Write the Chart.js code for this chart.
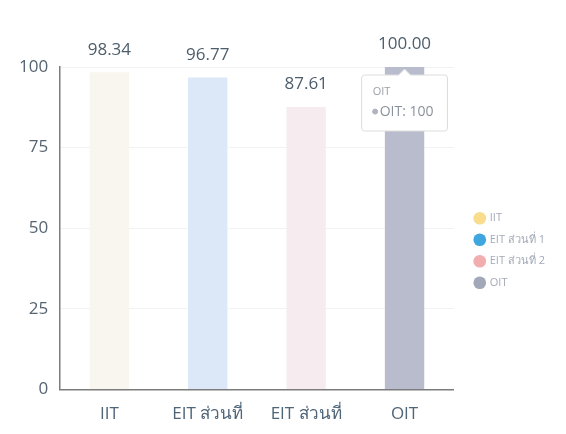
<!DOCTYPE html>
<html lang="th">
<head>
  <meta charset="UTF-8" />
  <title>IIT / EIT / OIT</title>
  <script src="https://cdn.jsdelivr.net/npm/chart.js"></script>
  <style>
    * { margin: 0; padding: 0; box-sizing: border-box; }
    body { background: #ffffff; width: 566px; height: 434px; overflow: hidden; }
    #wrap { position: relative; width: 566px; height: 434px; }
  </style>
</head>
<body>
  <div id="wrap"><canvas id="grafico"></canvas></div>

  <script>
    // dados
    const categorias = ['IIT', 'EIT ส่วนที่ 1', 'EIT ส่วนที่ 2', 'OIT'];
    const rotulosEixo = ['IIT', 'EIT ส่วนที่', 'EIT ส่วนที่', 'OIT'];
    const valores = [98.34, 96.77, 87.61, 100];
    const ticksY = [0, 25, 50, 75, 100];

    const coresBarra = ['#f8f6ee', '#dce8f8', '#f6ecef', '#b9bccc'];
    const coresLegenda = ['#f9dc8c', '#3fa6e0', '#f2aeae', '#a3a8b8'];

    const fonte = "'Open Sans', 'Noto Sans', sans-serif";

    // rótulos em cima das barras
    const rotulosValor = {
      id: 'rotulosValor',
      afterDatasetsDraw(chart) {
        const ctx = chart.ctx;
        const meta = chart.getDatasetMeta(0);
        ctx.save();
        ctx.font = '17px ' + fonte;
        ctx.fillStyle = '#4d5d6a';
        ctx.textAlign = 'center';
        ctx.textBaseline = 'bottom';
        meta.data.forEach((bar, i) => {
          ctx.fillText(valores[i].toFixed(2), bar.x, bar.y - 14);
        });
        ctx.restore();
      }
    };

    // empurra a legenda um pouco para a direita
    const deslocaLegenda = {
      id: 'deslocaLegenda',
      beforeLayout(chart) {
        const lg = chart.legend;
        if (!lg || lg._deslocada) return;
        const draw = lg.draw;
        lg.draw = function () {
          this.ctx.save();
          this.ctx.translate(11, -2);
          draw.call(this);
          this.ctx.restore();
        };
        lg._deslocada = true;
      }
    };

    const ctx = document.getElementById('grafico').getContext('2d');
    const grafico = new Chart(ctx, {
      type: 'bar',
      data: {
        labels: categorias,
        datasets: [{
          label: 'valor',
          data: valores,
          backgroundColor: coresBarra,
          hoverBackgroundColor: coresBarra,
          barPercentage: 0.5,
          categoryPercentage: 0.8,
        }],
      },
      options: {
        responsive: true,
        maintainAspectRatio: false,
        animation: false,
        layout: { padding: { top: 67, right: 22, left: 7, bottom: -4 } },
        plugins: {
          legend: {
            position: 'right',
            labels: {
              usePointStyle: true,
              pointStyle: 'circle',
              boxWidth: 9,
              boxHeight: 9,
              padding: 10.5,
              color: '#a3abb8',
              font: { size: 11, family: fonte },
              generateLabels: () => categorias.map((c, i) => ({
                text: c,
                fillStyle: coresLegenda[i],
                strokeStyle: coresLegenda[i],
                lineWidth: 0,
                pointStyle: 'circle',
                fontColor: '#a3abb8',
                index: i,
              })),
            },
          },
          tooltip: {
            enabled: true,
            backgroundColor: '#ffffff',
            borderColor: '#dcdcdc',
            borderWidth: 1,
            titleColor: '#9aa0a8',
            bodyColor: '#8a929c',
            titleFont: { size: 11, family: fonte, weight: 'normal' },
            titleMarginBottom: 5,
            bodyFont: { size: 14, family: fonte },
            yAlign: 'top',
            caretSize: 6,
            padding: { top: 10, bottom: 11, left: 11, right: 14 },
            cornerRadius: 3,
            usePointStyle: true,
            boxWidth: 5,
            boxHeight: 5,
            callbacks: {
              label: (item) => categorias[item.dataIndex] + ': ' + valores[item.dataIndex],
              labelColor: () => ({ borderColor: '#b0b4c0', backgroundColor: '#b0b4c0' }),
              labelPointStyle: () => ({ pointStyle: 'circle', rotation: 0 }),
            },
          },
        },
        scales: {
          y: {
            min: 0,
            max: 100,
            afterBuildTicks: (axis) => { axis.ticks = ticksY.map(v => ({ value: v })); },
            border: { color: '#7c7c7c', width: 1.5 },
            grid: { color: 'rgba(0,0,0,0.05)', drawTicks: false },
            ticks: { padding: 12, color: '#566472', font: { size: 17, family: fonte } },
          },
          x: {
            border: { color: '#7c7c7c', width: 1.5 },
            grid: { display: false, drawTicks: false },
            ticks: {
              padding: 14,
              color: '#4f6578',
              font: { size: 17, family: fonte },
              callback: (v, i) => rotulosEixo[i],
            },
          },
        },
      },
      plugins: [rotulosValor, deslocaLegenda],
    });

    // tooltip ativo na barra OIT, como na imagem
    const barOit = grafico.getDatasetMeta(0).data[3];
    grafico.setActiveElements([{ datasetIndex: 0, index: 3 }]);
    grafico.tooltip.setActiveElements([{ datasetIndex: 0, index: 3 }], { x: barOit.x, y: barOit.y });
    grafico.update();
  </script>
</body>
</html>
